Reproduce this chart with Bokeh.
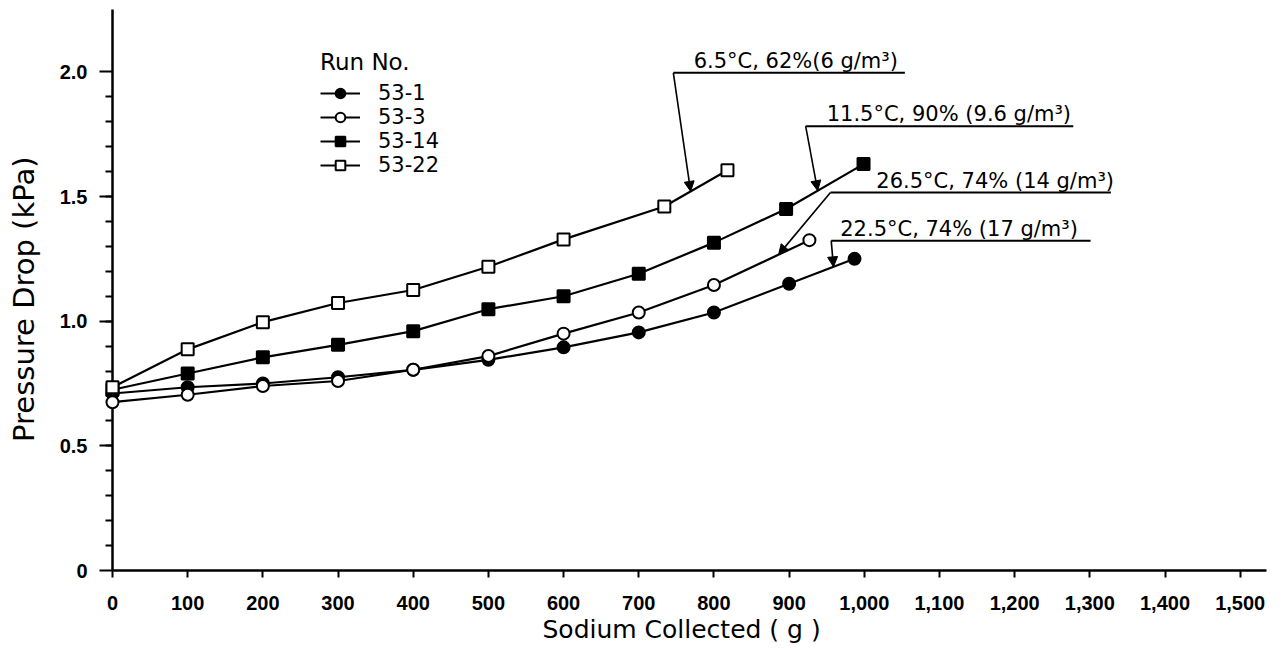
import numpy as np
from bokeh.plotting import figure
from bokeh.models import (Range1d, FixedTicker, NumeralTickFormatter, Legend, LegendItem,
                          Arrow, NormalHead, ColumnDataSource)
from bokeh.core.properties import value
from bokeh.embed import file_html
from bokeh.resources import INLINE

# ---------------- data ----------------
run_labels = ["53-1", "53-3", "53-14", "53-22"]

run_1_x = [0, 100, 200, 300, 400, 500, 600, 700, 800, 900, 987]
run_1_y = [0.71, 0.735, 0.75, 0.775, 0.805, 0.845, 0.895, 0.955, 1.035, 1.15, 1.25]

run_3_x = [0, 100, 200, 300, 400, 500, 600, 700, 800, 927]
run_3_y = [0.675, 0.705, 0.74, 0.76, 0.805, 0.86, 0.95, 1.035, 1.145, 1.325]

run_14_x = [0, 100, 200, 300, 400, 500, 600, 700, 800, 896, 999]
run_14_y = [0.725, 0.79, 0.855, 0.905, 0.96, 1.048, 1.10, 1.19, 1.315, 1.45, 1.63]

run_22_x = [0, 100, 200, 300, 400, 500, 600, 734, 818]
run_22_y = [0.735, 0.887, 0.996, 1.073, 1.125, 1.218, 1.328, 1.46, 1.605]

x_ticks = list(range(0, 1501, 100))
y_ticks = [0, 0.5, 1.0, 1.5, 2.0]
y_minor_ticks = [round(0.1 * i, 1) for i in range(1, 20)]

# annotations (condition labels with leader arrows)
note_texts = ["6.5°C, 62%(6 g/m³)", "11.5°C, 90% (9.6 g/m³)",
              "26.5°C, 74% (14 g/m³)", "22.5°C, 74% (17 g/m³)"]
note_series = [3, 2, 1, 0]          # index of the run each note points to
note_text_x = [773, 950, 1016, 968]
note_line_y = [1.996, 1.782, 1.516, 1.323]
note_line_x0 = [746, 922, 955, 956]
note_line_x1 = [1054, 1278, 1328, 1301]
note_tip_x = [769, 938, 886, 959]

# ---------------- figure ----------------
p = figure(width=1285, height=654, x_range=Range1d(0, 1535), y_range=Range1d(0, 2.25),
           output_backend="svg", toolbar_location=None,
           min_border_left=112, min_border_right=19, min_border_top=9, min_border_bottom=84)
p.grid.visible = False
p.outline_line_color = None
p.background_fill_color = "white"
p.border_fill_color = "white"

tick_font = "Liberation Sans"
text_font = "DejaVu Sans"

# x axis
xa = p.xaxis[0]
xa.ticker = FixedTicker(ticks=x_ticks)
xa.formatter = NumeralTickFormatter(format="0,0")
xa.axis_line_width = 2.5
xa.axis_line_color = "black"
xa.major_tick_line_width = 2
xa.major_tick_line_color = "black"
xa.major_tick_out = 7
xa.major_tick_in = 0
xa.minor_tick_out = 0
xa.minor_tick_in = 0
xa.major_label_standoff = 18
xa.major_label_text_font = tick_font
xa.major_label_text_font_size = "20px"
xa.major_label_text_font_style = "bold"
xa.major_label_text_color = "black"
xa.axis_label = "Sodium  Collected  ( g )"
xa.axis_label_text_font = text_font
xa.axis_label_text_font_size = "25px"
xa.axis_label_text_font_style = "normal"
xa.axis_label_text_color = "black"
xa.axis_label_standoff = 2

# y axis
ya = p.yaxis[0]
ya.ticker = FixedTicker(ticks=y_ticks, minor_ticks=y_minor_ticks)
ya.formatter = NumeralTickFormatter(format="0.0")
ya.major_label_overrides = {0: "0"}
ya.axis_line_width = 2.5
ya.axis_line_color = "black"
ya.major_tick_line_width = 2
ya.major_tick_line_color = "black"
ya.minor_tick_line_width = 2
ya.minor_tick_line_color = "black"
ya.major_tick_out = 13
ya.major_tick_in = 0
ya.minor_tick_out = 7
ya.minor_tick_in = 0
ya.major_label_standoff = 12
ya.major_label_text_font = tick_font
ya.major_label_text_font_size = "20px"
ya.major_label_text_font_style = "bold"
ya.major_label_text_color = "black"
ya.axis_label = "Pressure  Drop  (kPa)"
ya.axis_label_text_font = text_font
ya.axis_label_text_font_size = "29px"
ya.axis_label_text_font_style = "normal"
ya.axis_label_text_color = "black"
ya.axis_label_standoff = 16

# series
series = [
    (run_1_x, run_1_y, "circle", "black"),
    (run_3_x, run_3_y, "circle", "white"),
    (run_14_x, run_14_y, "square", "black"),
    (run_22_x, run_22_y, "square", "white"),
]
items = []
for (xs, ys, marker, fill), lab in zip(series, run_labels):
    src = ColumnDataSource(dict(x=xs, y=ys))
    lr = p.line("x", "y", source=src, line_color="black", line_width=2.2)
    sr = p.scatter("x", "y", source=src, marker=marker, size=12,
                   fill_color=fill, line_color="black", line_width=2, level="overlay")
    items.append(LegendItem(label=lab, renderers=[lr, sr]))

legend = Legend(items=items, location=(208, 393), title="Run No.",
                title_text_font=text_font, title_text_font_size="23px",
                title_text_font_style="normal", title_text_color="black", title_standoff=6,
                label_text_font=text_font, label_text_font_size="21px",
                label_text_color="black",
                label_height=24, glyph_height=24, glyph_width=40, spacing=0,
                label_standoff=18, padding=0, margin=0,
                border_line_color=None, background_fill_alpha=0)
p.add_layout(legend)

# annotations
all_x = [run_1_x, run_3_x, run_14_x, run_22_x]
all_y = [run_1_y, run_3_y, run_14_y, run_22_y]
tip_y = [float(np.interp(tx, all_x[s], all_y[s])) for tx, s in zip(note_tip_x, note_series)]

note_src = ColumnDataSource(dict(text=note_texts, tx=note_text_x, ty=note_line_y,
                                 x0=note_line_x0, x1=note_line_x1, ly=note_line_y,
                                 tipx=note_tip_x, tipy=tip_y))
p.segment(x0="x0", y0="ly", x1="x1", y1="ly", source=note_src, line_color="black", line_width=2)
p.text(x="tx", y="ty", text="text", source=note_src, text_font=value(text_font),
       text_font_size="21px", text_baseline="bottom", text_align="left", text_color="black")
p.add_layout(Arrow(source=note_src, x_start="x0", y_start="ly", x_end="tipx", y_end="tipy",
                   line_color="black", line_width=1.6,
                   end=NormalHead(size=10, fill_color="black", line_color="black")))

open("out.html", "w").write(file_html(p, INLINE))
